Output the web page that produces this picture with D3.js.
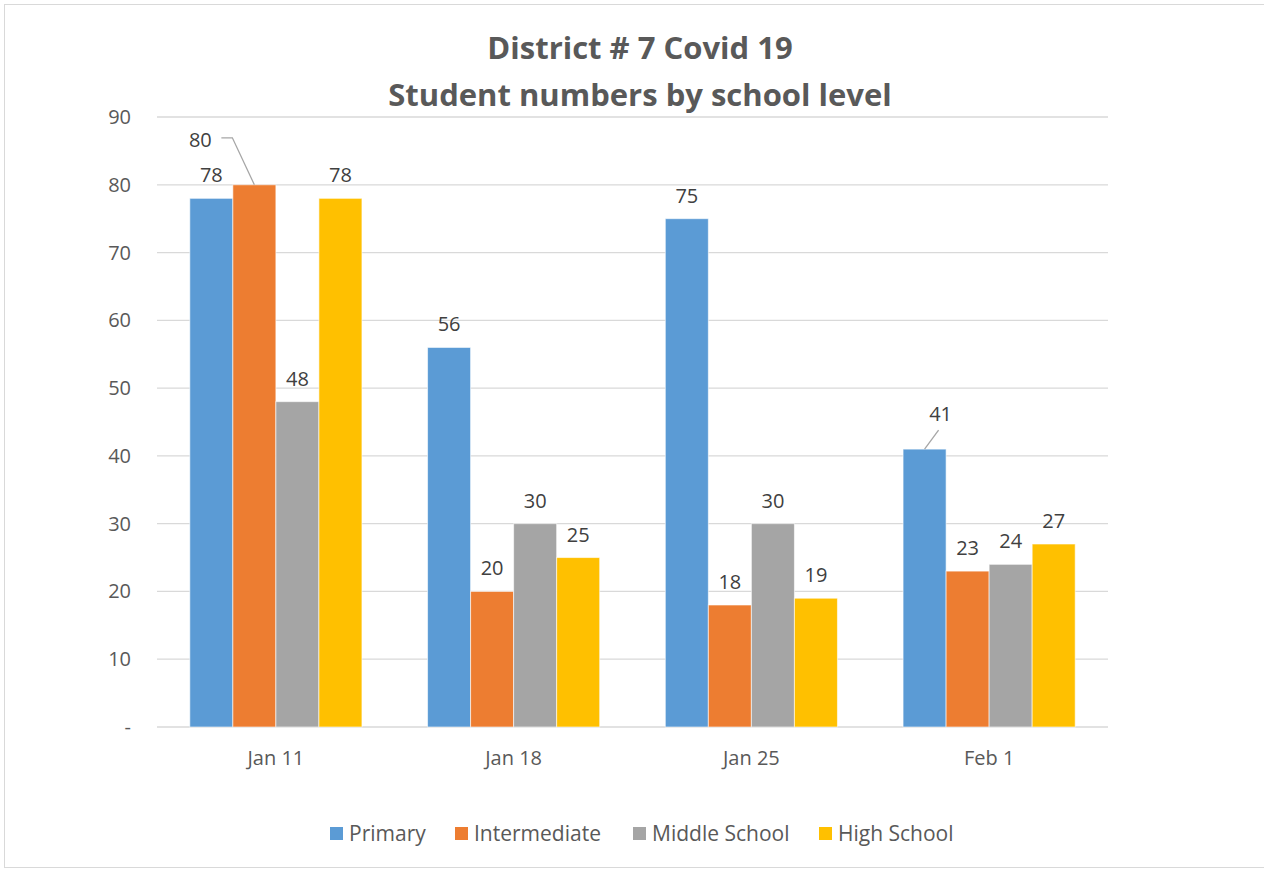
<!DOCTYPE html>
<html>
<head>
<meta charset="utf-8">
<script src="https://cdn.jsdelivr.net/npm/d3@7"></script>
<style>
  body { margin: 0; background: #fff; }
  text { font-family: "Open Sans", sans-serif; }
</style>
</head>
<body>
<div id="chart"></div>
<script>
const WIDTH = 1264;
const HEIGHT = 872;
const LEFT = 157;
const RIGHT = 1108;
const TOP = 117;
const BOTTOM = 727;

const weeks = ['Jan 11', 'Jan 18', 'Jan 25', 'Feb 1'];
const levels = ['Primary', 'Intermediate', 'Middle School', 'High School'];
const colors = ['#5B9BD5', '#ED7D31', '#A5A5A5', '#FFC000'];
const primary = [78, 56, 75, 41];
const intermediate = [80, 20, 18, 23];
const middleSchool = [48, 30, 30, 24];
const highSchool = [78, 25, 19, 27];
const yTicks = [0, 10, 20, 30, 40, 50, 60, 70, 80, 90];
const titleLines = ['District # 7 Covid 19', 'Student numbers by school level'];

const seriesValues = [primary, intermediate, middleSchool, highSchool];

let svg = d3.select('#chart').append('svg')
  .attr('width', WIDTH)
  .attr('height', HEIGHT)

// chart frame
svg.append('rect')
  .attr('x', 4.5).attr('y', 4.5)
  .attr('width', WIDTH + 10).attr('height', HEIGHT - 9)
  .attr('fill', 'none')
  .attr('stroke', '#d9d9d9')

let x = d3.scaleBand().domain(weeks).range([LEFT, RIGHT]).paddingInner(0.276).paddingOuter(0.138);
let xInner = d3.scaleBand().domain(levels).range([0, x.bandwidth()]);
let y = d3.scaleLinear().domain([0, 90]).range([BOTTOM, TOP]);

// gridlines
svg.append('g').selectAll('line')
  .data(yTicks)
  .enter()
  .append('line')
  .attr('x1', LEFT).attr('x2', RIGHT)
  .attr('y1', (d) => y(d)).attr('y2', (d) => y(d))
  .attr('stroke', '#d9d9d9')
  .attr('stroke-width', 1.3)

// y axis labels
svg.append('g').selectAll('text')
  .data(yTicks)
  .enter()
  .append('text')
  .attr('x', 131)
  .attr('y', (d) => y(d) + 7)
  .attr('text-anchor', 'end')
  .attr('font-size', 20)
  .attr('fill', '#595959')
  .text((d) => d === 0 ? '-' : d)

// x axis labels
svg.append('g').selectAll('text')
  .data(weeks)
  .enter()
  .append('text')
  .attr('x', (d) => x(d) + x.bandwidth() / 2)
  .attr('y', 765)
  .attr('text-anchor', 'middle')
  .attr('font-size', 20)
  .attr('fill', '#595959')
  .text((d) => d)

// bars
let rows = [];
levels.forEach((lvl, i) => {
  weeks.forEach((wk, j) => {
    rows.push({ level: lvl, week: wk, value: seriesValues[i][j], color: colors[i] });
  });
});

svg.append('g').selectAll('rect')
  .data(rows)
  .enter()
  .append('rect')
  .attr('x', (d) => x(d.week) + xInner(d.level))
  .attr('y', (d) => y(d.value))
  .attr('width', xInner.bandwidth())
  .attr('height', (d) => y(0) - y(d.value))
  .attr('fill', (d) => d.color)
  .attr('stroke', 'rgba(255,255,255,0.6)')
  .attr('stroke-width', 1)

// data labels (two of them are pulled away with leader lines)
let offsets = {
  'Intermediate|Jan 11': { dx: -54, dy: -22 },
  'Primary|Feb 1': { dx: 16, dy: -12 },
};

svg.append('g').selectAll('text')
  .data(rows)
  .enter()
  .append('text')
  .attr('x', (d) => {
    let o = offsets[d.level + '|' + d.week];
    return x(d.week) + xInner(d.level) + xInner.bandwidth() / 2 + (o ? o.dx : 0);
  })
  .attr('y', (d) => {
    let o = offsets[d.level + '|' + d.week];
    return y(d.value) - 16 + (o ? o.dy : 0);
  })
  .attr('text-anchor', 'middle')
  .attr('font-size', 20)
  .attr('fill', '#404040')
  .text((d) => d.value)

// leader lines
let leaders = rows.filter((d) => offsets[d.level + '|' + d.week]);
svg.append('g').selectAll('path')
  .data(leaders)
  .enter()
  .append('path')
  .attr('d', (d) => {
    let cx = x(d.week) + xInner(d.level) + xInner.bandwidth() / 2;
    let top = y(d.value);
    if(d.level === 'Intermediate') {
      return `M${cx - 33},${top - 47}H${cx - 22}L${cx},${top}`;
    }
    return `M${cx},${top}L${cx + 14},${top - 19}`;
  })
  .attr('fill', 'none')
  .attr('stroke', '#a6a6a6')
  .attr('stroke-width', 1.3)

// title
svg.append('g').selectAll('text')
  .data(titleLines)
  .enter()
  .append('text')
  .attr('x', 640)
  .attr('y', (d, i) => 59 + i * 47)
  .attr('text-anchor', 'middle')
  .attr('font-size', 31)
  .attr('font-weight', 'bold')
  .attr('fill', '#595959')
  .text((d) => d)

// legend
let legendX = [330, 455, 633, 819];
let legend = svg.append('g').selectAll('g')
  .data(levels)
  .enter()
  .append('g')
  .attr('transform', (d, i) => `translate(${legendX[i]},827)`)

legend.append('rect')
  .attr('width', 13).attr('height', 13)
  .attr('fill', (d, i) => colors[i])

legend.append('text')
  .attr('x', 19)
  .attr('y', 14)
  .attr('font-size', 21)
  .attr('fill', '#595959')
  .text((d) => d)
</script>
</body>
</html>
